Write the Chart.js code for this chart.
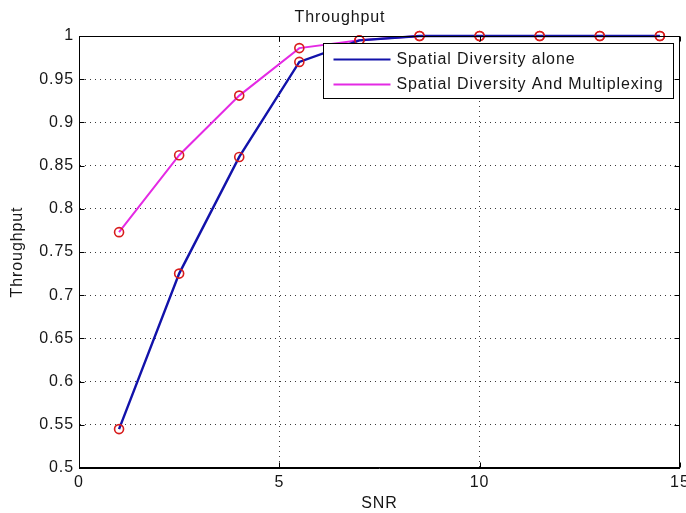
<!DOCTYPE html>
<html>
<head>
<meta charset="utf-8">
<script src="https://cdn.jsdelivr.net/npm/chart.js@4"></script>
<style>
  html, body { margin: 0; padding: 0; background: #fff; }
  #wrap { width: 686px; height: 513px; }
</style>
</head>
<body>
<div id="wrap"><canvas id="chart" width="686" height="513"></canvas></div>
<script>
// values
const snr = [1, 2.5, 4, 5.5, 7, 8.5, 10, 11.5, 13, 14.5];
const diversityAlone = [0.545, 0.725, 0.860, 0.970, 0.995, 1, 1, 1, 1, 1];
const diversityMultiplexing = [0.773, 0.862, 0.931, 0.986, 0.995, 1, 1, 1, 1, 1];
const seriesNames = ['Spatial Diversity alone', 'Spatial Diversity And Multiplexing'];
const xTicks = [0, 5, 10, 15];
const yTicks = [0.5, 0.55, 0.6, 0.65, 0.7, 0.75, 0.8, 0.85, 0.9, 0.95, 1];

const FONT = { family: '"Liberation Sans", Arial, sans-serif', size: 16 };
const TEXT = '#161616';
const SPACING = '0.9px';

const toPoints = (ys) => snr.map((x, i) => ({ x: x, y: ys[i] }));

// MATLAB-like box: frame, inward ticks, legend inside the axes
const matlabBox = {
    id: 'matlabBox',
    beforeLayout(chart) { chart.ctx.letterSpacing = SPACING; },
    beforeDraw(chart) { chart.ctx.letterSpacing = SPACING; },
    afterDraw(chart) {
        const { ctx, chartArea: a, scales } = chart;
        const L = Math.round(a.left) + 0.5, R = Math.round(a.right) - 0.5;
        const T = Math.round(a.top) + 0.5, B = Math.round(a.bottom) - 0.5;
        ctx.save();
        ctx.strokeStyle = '#000';
        ctx.lineWidth = 1;
        ctx.setLineDash([]);
        ctx.beginPath();
        scales.x.ticks.forEach(t => {
            const px = Math.round(scales.x.getPixelForValue(t.value)) + 0.5;
            ctx.moveTo(px, B); ctx.lineTo(px, B - 5);
            ctx.moveTo(px, T); ctx.lineTo(px, T + 5);
        });
        scales.y.ticks.forEach(t => {
            const py = Math.round(scales.y.getPixelForValue(t.value)) + 0.5;
            ctx.moveTo(L, py); ctx.lineTo(L + 5, py);
            ctx.moveTo(R, py); ctx.lineTo(R - 5, py);
        });
        ctx.stroke();
        ctx.strokeRect(L, T, R - L, B - T);

        // legend
        ctx.font = FONT.size + 'px ' + FONT.family;
        ctx.letterSpacing = SPACING;
        const widths = chart.data.datasets.map(d => ctx.measureText(d.label).width);
        const boxW = Math.round(73 + Math.max(...widths) + 10);
        const boxH = 55;
        const bx = Math.round(a.right) - 7 - boxW + 0.5;
        const by = Math.round(a.top) + 7 + 0.5;
        ctx.fillStyle = '#fff';
        ctx.fillRect(bx, by, boxW, boxH);
        ctx.strokeStyle = '#000';
        ctx.strokeRect(bx, by, boxW, boxH);
        ctx.textBaseline = 'middle';
        ctx.textAlign = 'left';
        chart.data.datasets.forEach((d, i) => {
            const cy = by + 16 + i * 25;
            ctx.strokeStyle = d.borderColor;
            ctx.lineWidth = 2;
            ctx.beginPath();
            ctx.moveTo(bx + 10, cy);
            ctx.lineTo(bx + 67, cy);
            ctx.stroke();
            ctx.fillStyle = TEXT;
            ctx.fillText(d.label, bx + 73, cy);
        });
        ctx.restore();
    }
};

const ctx = document.getElementById('chart');
new Chart(ctx, {
    type: 'line',
    data: {
        datasets: [{
            label: seriesNames[0],
            data: toPoints(diversityAlone),
            borderColor: '#1212aa',
            borderWidth: 2.4,
            pointRadius: 4.5,
            pointBorderWidth: 1.6,
            pointBorderColor: '#d81c1c',
            pointBackgroundColor: 'rgba(0,0,0,0)',
            tension: 0,
            clip: false
        }, {
            label: seriesNames[1],
            data: toPoints(diversityMultiplexing),
            borderColor: '#e42ae4',
            borderWidth: 2,
            pointRadius: 4.5,
            pointBorderWidth: 1.6,
            pointBorderColor: '#d81c1c',
            pointBackgroundColor: 'rgba(0,0,0,0)',
            tension: 0,
            clip: false
        }]
    },
    options: {
        responsive: false,
        animation: false,
        devicePixelRatio: 1,
        layout: { padding: { left: 0, right: 6, top: 0, bottom: 0 } },
        plugins: {
            legend: { display: false },
            tooltip: { enabled: false },
            title: {
                display: true,
                text: 'Throughput',
                color: TEXT,
                font: { family: FONT.family, size: FONT.size, weight: 'normal' },
                padding: { top: 7.5, bottom: 9.3 }
            }
        },
        scales: {
            x: {
                type: 'linear',
                min: 0,
                max: 15,
                afterBuildTicks: (s) => { s.ticks = xTicks.map(v => ({ value: v })); },
                afterFit: (s) => { s.height = 45; s.paddingLeft = 0; s.paddingRight = 0; },
                ticks: {
                    color: TEXT,
                    font: FONT,
                    padding: 5,
                    maxRotation: 0,
                    callback: (v) => String(v)
                },
                grid: { color: '#3a3a3a', lineWidth: 1, drawTicks: false },
                border: { color: '#000', width: 1, dash: [1, 4] },
                title: {
                    display: true,
                    text: 'SNR',
                    color: TEXT,
                    font: FONT,
                    padding: { top: 0, bottom: 0 }
                }
            },
            y: {
                type: 'linear',
                min: 0.5,
                max: 1,
                afterBuildTicks: (s) => { s.ticks = yTicks.map(v => ({ value: v })); },
                afterFit: (s) => { s.width = 79; s.paddingTop = 0; s.paddingBottom = 0; },
                ticks: {
                    color: TEXT,
                    font: FONT,
                    padding: 5,
                    callback: (v) => String(Number(v.toFixed(2)))
                },
                grid: { color: '#3a3a3a', lineWidth: 1, drawTicks: false },
                border: { color: '#000', width: 1, dash: [1, 4] },
                title: {
                    display: true,
                    text: 'Throughput',
                    color: TEXT,
                    font: FONT,
                    padding: { top: 8, bottom: 0 }
                }
            }
        }
    },
    plugins: [matlabBox]
});
</script>
</body>
</html>
